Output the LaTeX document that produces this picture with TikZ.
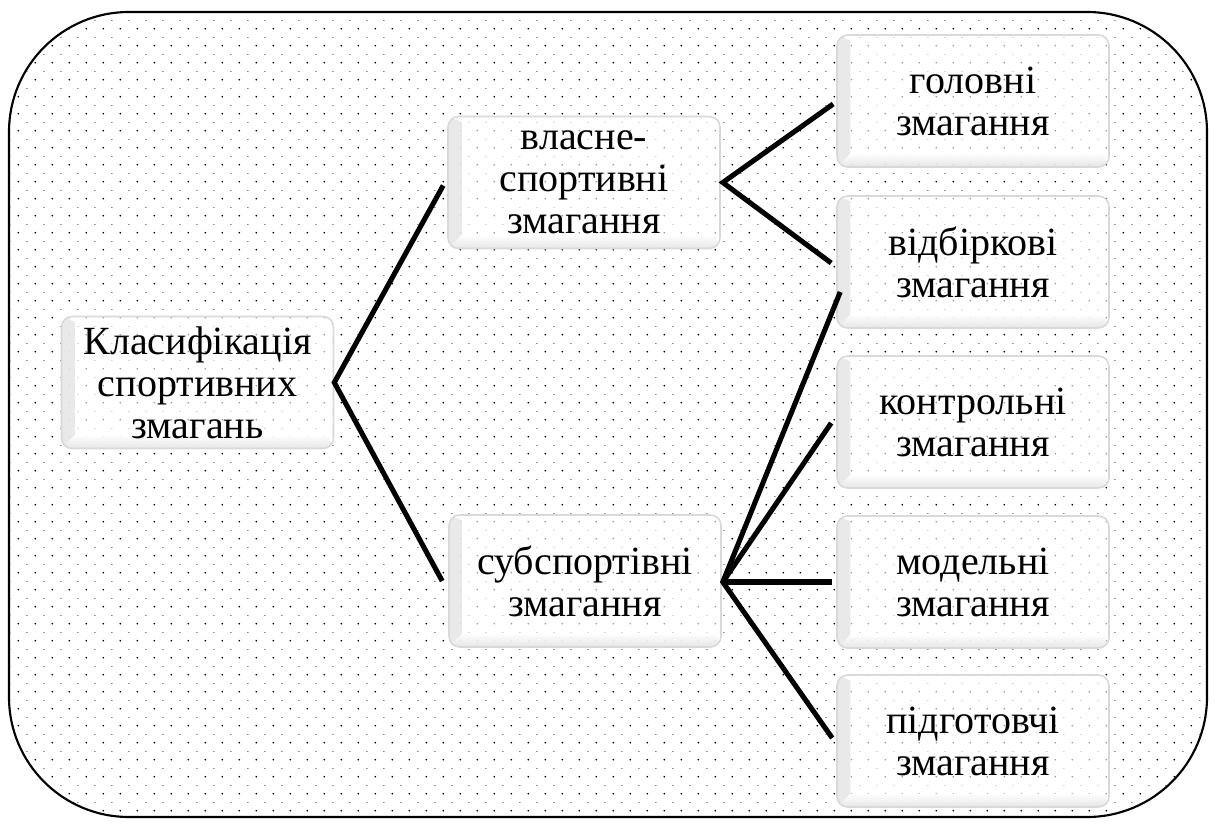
\documentclass[tikz,border=0pt]{standalone}
\usepackage{fontspec}
\setmainfont{Liberation Serif}
\usetikzlibrary{patterns,calc}

\pgfdeclarepatternformonly{darkdots}{\pgfqpoint{0pt}{0pt}}{\pgfqpoint{12.5pt}{12.5pt}}{\pgfqpoint{12.5pt}{12.5pt}}{%
  \pgfpathcircle{\pgfqpoint{1pt}{1pt}}{0.72pt}\pgfusepath{fill}}
\pgfdeclarepatternformonly{lightdots}{\pgfqpoint{0pt}{0pt}}{\pgfqpoint{12.5pt}{12.5pt}}{\pgfqpoint{12.5pt}{12.5pt}}{%
  \pgfpathrectangle{\pgfqpoint{6.9pt}{7.0pt}}{\pgfqpoint{1.2pt}{0.6pt}}\pgfusepath{fill}}

\tikzset{
  box/.style={draw=gray!30, line width=1.2pt, rounded corners=8pt,
    fill=white, fill opacity=0.62, text opacity=1,
    minimum width=204pt, minimum height=99pt, align=center, inner sep=0pt,
    font=\fontsize{30}{31.5}\selectfont,
    path picture={
      \fill[sharp corners, left color=black!14, right color=white]
        (path picture bounding box.south west) -- (path picture bounding box.north west)
        -- ([xshift=10pt,yshift=-4pt]path picture bounding box.north west)
        -- ([xshift=10pt,yshift=10pt]path picture bounding box.south west) -- cycle;
      \fill[sharp corners, bottom color=black!16, top color=white]
        (path picture bounding box.south west)
        -- ([xshift=10pt,yshift=10pt]path picture bounding box.south west)
        -- ([xshift=-4pt,yshift=10pt]path picture bounding box.south east)
        -- (path picture bounding box.south east) -- cycle;
    }},
  conn/.style={draw=black, line width=3.8pt, line join=miter},
  frame/.style={rounded corners=90pt}
}

\begin{document}
\begin{tikzpicture}[x=0.75pt,y=-0.75pt]
\useasboundingbox (0,0) rectangle (1217,828);
\fill[white] (0,0) rectangle (1217,828);
\fill[frame, pattern=lightdots, pattern color=black!45] (9,12) rectangle (1207,817);
\fill[frame, pattern=darkdots, pattern color=black] (9,12) rectangle (1207,817);
\draw[frame, line width=1.6pt] (9,12) rectangle (1207,817);

\node[box] (root) at (197.5,382.5) {Класифікація\\спортивних\\змагань};
\node[box] (own) at (584,182.5) {власне-\\спортивні\\змагання};
\node[box] (sub) at (585,581) {субспортівні\\змагання};
\node[box] (r1) at (973,101) {головні\\змагання};
\node[box] (r2) at (973,262) {відбіркові\\змагання};
\node[box] (r3) at (973,422) {контрольні\\змагання};
\node[box] (r4) at (973,582) {модельні\\змагання};
\node[box] (r5) at (973,741) {підготовчі\\змагання};

\coordinate (vroot) at (root.east);
\coordinate (vown) at ($(own.east)+(2,0)$);
\coordinate (vsub) at ($(sub.east)+(1,1)$);

\draw[conn] ($(own.west)+(-4,3)$) -- (vroot) -- ($(sub.west)+(-6,0)$);
\draw[conn] ($(r1.west)+(-3,3)$) -- (vown) -- ($(r2.west)+(-5,1)$);
\draw[conn] ($(r2.west)+(4,30)$) -- (vsub) -- ($(r5.west)+(-4,-3)$);
\draw[conn] (vsub) -- ($(r3.west)+(-5,1)$);
\draw[conn] (vsub) -- ($(r4.west)+(-4,0)$);
\end{tikzpicture}
\end{document}
